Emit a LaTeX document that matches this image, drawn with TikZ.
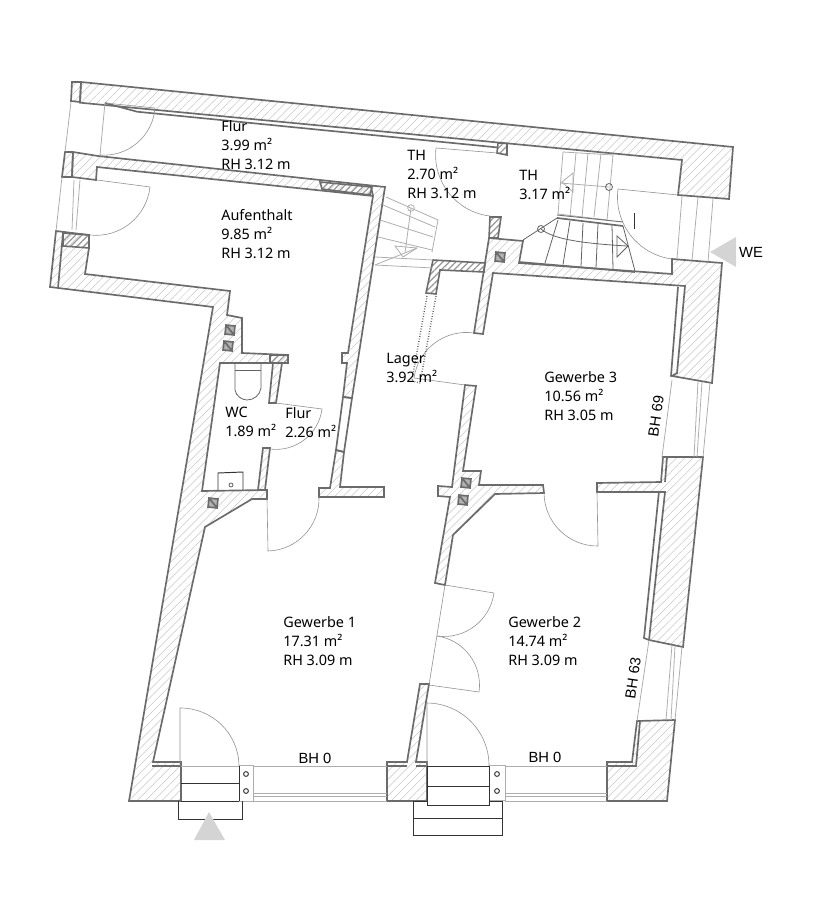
\documentclass[tikz,border=0pt]{standalone}
\usepackage{fontspec}
\setmainfont{Noto Sans}
\newfontfamily\sidefont{Liberation Sans}
\usetikzlibrary{patterns.meta}
\definecolor{wallgray}{gray}{.42}
\definecolor{hatchgray}{gray}{.78}
\definecolor{thingray}{gray}{.68}
\definecolor{stepgray}{gray}{.2}
\definecolor{markgray}{gray}{.83}
\tikzset{
  wall/.style = {
    draw = wallgray,
    line width = .95pt,
    pattern = {Lines[angle=45,distance=3.3pt,line width=.3pt]},
    pattern color = hatchgray},
  darkwall/.style = {
    draw = wallgray,
    line width = .9pt,
    pattern = {Lines[angle=45,distance=2.6pt,line width=.7pt]},
    pattern color = wallgray!70},
  wallline/.style = {draw = wallgray, line width = .95pt},
  thinline/.style = {draw = thingray, line width = .45pt},
  doorline/.style = {draw = black!42, line width = .35pt},
  stepline/.style = {draw = stepgray, line width = .55pt},
  stair/.style = {draw = black!62, line width = .45pt},
  roomlabel/.style = {
    anchor = north west,
    inner sep = 0pt,
    align = left,
    font = \fontsize{8.2}{10.75}\selectfont},
  sidelabel/.style = {inner sep = 0pt, font = \sidefont\fontsize{8.4}{9}\selectfont}
}
\begin{document}
\begin{tikzpicture}[x=.02cm,y=-.02cm]
  \useasboundingbox (0,0) rectangle (828,905);
  %% walls
  \draw[wall] (72,82) -- (81,82) -- (80,102) -- (71,101) -- cycle;
  \draw[wall] (81,82) -- (733,147) -- (729,199) -- (678,195) -- (682,160) -- (80,102.7) -- cycle;
  \draw[wall] (65,152) -- (73,152) -- (72,177) -- (62,177) -- cycle;
  \draw[wall] (73,152) -- (98,156) -- (385,187) -- (352,398) -- (343,397) -- (347,363) -- (342,363)
    -- (342,353) -- (348,353) -- (373,196) -- (97,167) -- (96,180) -- (72,177) -- cycle;
  \draw[wall] (344,452) -- (336,450) -- (330,488) -- (319,488) -- (319,497) -- (384,497) -- (384,487)
    -- (340,487) -- cycle;
  \draw[wall] (56,231) -- (89,235) -- (89,248) -- (85,274) -- (230,291) -- (227,315) -- (242,318)
    -- (242,353) -- (288,355) -- (288,363) -- (220,363) -- (202,491) -- (267,490) -- (267,499)
    -- (252,499) -- (205,527) -- (153,762) -- (181,762) -- (181,801) -- (129,801) -- (213,307)
    -- (50,287) -- cycle;
  \draw[wall] (489,238) -- (523,241) -- (519,263) -- (672,274) -- (672,259) -- (722,263) -- (712,383)
    -- (672,376) -- (677,373) -- (685,286) -- (493,273) -- (483,334) -- (474,333) -- (485,263) -- cycle;
  \draw[wall] (465,385) -- (476,386) -- (463,471) -- (481,471) -- (479,485) -- (543,485) -- (544,493)
    -- (495,494) -- (453,535) -- (445,585) -- (435,583) -- (450,497) -- (438,496) -- (438,486)
    -- (452,487) -- cycle;
  \draw[wall] (597,483) -- (661,482) -- (663,457) -- (703,457) -- (683,647) -- (649,640) -- (665,492)
    -- (597,492) -- cycle;
  \draw[wall] (387,762) -- (407,762) -- (420,684) -- (429,684) -- (416,762) -- (427,762) -- (427,801)
    -- (387,801) -- cycle;
  \draw[wall] (607,762) -- (632,762) -- (637,721) -- (675,720) -- (667,801) -- (607,801) -- cycle;
  \draw[wall] (273,363) -- (282,363) -- (276,403) -- (269,403) -- cycle;
  \draw[wall] (263,448) -- (270,448) -- (265,490) -- (258,490) -- cycle;
  %% darker pieces
  \draw[darkwall] (498,143) -- (507,143.5) -- (507,155) -- (497,153) -- cycle;
  \draw[darkwall] (490,217) -- (501,217) -- (498,238) -- (489,238) -- cycle;
  \draw[darkwall] (433,260) -- (485,263) -- (484,272) -- (440,270) -- (436,294) -- (426,293) -- cycle;
  \draw[darkwall] (63,233) -- (89,235) -- (89,248) -- (63,246) -- cycle;
  \draw[darkwall] (320,182) -- (372,187) -- (370,195) -- (322,189) -- cycle;
  \draw[darkwall] (270,355) -- (288,355) -- (288,363) -- (270,363) -- cycle;
  %% inner wall lines
  \draw[wallline] (105,103) -- (137,111.7) -- (498,147.5);
  \draw[wallline] (63,233) -- (58,288);
  \draw[wallline] (352,398) -- (344,452);
  \draw[wallline] (343,397) -- (336,450);
  \draw[wallline] (352,398) -- (343,397);
  \draw[wallline] (344,452) -- (336,450);
  \draw[wallline] (678,287) -- (671,376);
  \draw[wallline] (667,457) -- (665,482);
  \draw[wallline] (659,491) -- (644,638) -- (649,640);
  \draw[wallline] (640,721) -- (636,766) -- (607,766);
  \draw[wallline] (152,766) -- (181,766);
  \draw[wallline] (387,766) -- (407,766);
  \draw[wallline] (416,766) -- (427,766);
  \draw[wallline] (373,196) -- (371,187);
  %% flues
  \foreach \fx/\fy in {230/330,228/346,213/503,500/257,466/483,463/500}{
    \begin{scope}[shift={(\fx,\fy)},rotate=-6]
      \fill[black!30] (-4.5,-4.5) rectangle (4.5,4.5);
      \draw[wallline] (-4.5,-4.5) rectangle (4.5,4.5) (-4.5,-4.5) -- (4.5,4.5);
    \end{scope}}
  %% doors
  \draw[doorline] (105,103) -- (155,108) to[bend left=45] (100,155);
  \draw[doorline] (97,180) -- (150,187) to[bend left=45] (90,235);
  \draw[doorline] (497,153) -- (436,148) to[bend right=45] (490,216);
  \draw[doorline] (678,195) -- (618,189) to[bend right=45] (672,259);
  \draw[doorline] (276,403) -- (322,409) to[bend left=45] (270,449);
  \draw[doorline] (267,499) -- (268,551) to[bend right=45] (319,497);
  \draw[doorline] (465,385) -- (414,378) to[bend left=45] (474,333);
  \draw[doorline] (544,493) to[bend right=45] (598,546) -- (597,492);
  \draw[doorline] (445,585) -- (494,593) to[bend left=45] (437,636);
  \draw[doorline] (429,685) -- (479,692) to[bend right=45] (437,636);
  \draw[doorline] (445,585) -- (429,685);
  \draw[doorline] (180,766) -- (180,708) to[bend left=45] (239,766);
  \draw[doorline] (427,766) -- (427,703) to[bend left=45] (489,766);
  %% outer openings
  \draw[thinline] (71,102) -- (65,152);
  \draw[thinline] (105,103) -- (100,155);
  \draw[thinline] (62,177) -- (56,231);
  \draw[thinline] (74,180) -- (72,230);
  \draw[thinline] (80,180) -- (76,230);
  \draw[thinline] (682,196) -- (677,259);
  \draw[thinline] (698,197) -- (692,260);
  \draw[thinline] (713,199) -- (708,262);
  \draw[thinline] (672,380) -- (662,457);
  \draw[thinline] (698,381) -- (694,457);
  \draw[thinline] (702,382) -- (697,457);
  \draw[thinline] (710,383) -- (703,457);
  \draw[thinline] (649,640) -- (637,721);
  \draw[thinline] (672,645) -- (666,720);
  \draw[thinline] (675,646) -- (671,720);
  \draw[thinline] (682,647) -- (675,720);
  \foreach \wy in {766,793,796,801}{
    \draw[thinline] (253,\wy) -- (387,\wy);
    \draw[thinline] (505,\wy) -- (607,\wy);}
  \draw[thinline] (181,766) -- (239,766);
  %% entrance left
  \draw[thinline] (239,765) rectangle (253,801);
  \draw[stepline] (181,783) -- (239,783);
  \draw[stepline] (181,801) -- (239,801);
  \draw[stepline] (239,766) -- (239,801);
  \draw[stepline] (178,801) -- (178,819) -- (242,819) -- (242,801);
  \draw[stepline] (246,774) circle (2.4);
  \draw[stepline] (246,791) circle (2.4);
  \fill[markgray] (209,812) -- (225,840) -- (194,840) -- cycle;
  %% entrance right
  \draw[thinline] (489,765) rectangle (505,800);
  \draw[stepline] (427,766) -- (489,766) -- (489,805) -- (427,805) -- cycle;
  \draw[stepline] (427,786) -- (489,786);
  \draw[stepline] (413,801) -- (413,835) -- (502,835) -- (502,801);
  \draw[stepline] (413,801) -- (427,801);
  \draw[stepline] (489,801) -- (502,801);
  \draw[stepline] (413,818) -- (502,818);
  \draw[stepline] (497,774) circle (2.4);
  \draw[stepline] (497,791) circle (2.4);
  \fill[markgray] (710,252) -- (736,237) -- (736,267) -- cycle;
  %% stairs
  \draw[thinline] (563,152) -- (558,214) -- (607,220) -- (613,155) -- cycle;
  \foreach \ua/\ub in {576/570,588/582,601/594}{
    \draw[thinline] (\ua,153) -- (\ub,217);}
  \draw[thinline] (560,183) -- (609,187);
  \draw[stair] (609,187) circle (3.5);
  \draw[thinline] (573,173) -- (562,182) -- (573,192) -- cycle;
  \draw[stepline,draw=black!55] (557,215) -- (623,222);
  \draw[wallline] (557,218) -- (623,226);
  \draw[wallline] (519,262) -- (635,272);
  \draw[stair] (523,240) -- (557,218);
  \draw[stair] (541,229) circle (3.5);
  \draw[stair] (541,229) .. controls (552,238) and (575,243) .. (627,246);
  \draw[stair] (617,236) -- (628,246) -- (617,257) -- cycle;
  \foreach \la/\lb/\lc in {558/220/545,570/221/563,583/223/581,598/224/596,612/225/613,623/226/635}{
    \draw[stair] (\la,\lb) -- (\lc,{263+(\lc-545)*.09});}
  \draw[thinline] (386,197) -- (438,220) -- (432,252);
  \draw[thinline] (383,205) -- (435,227);
  \draw[thinline] (380,220) -- (433,237);
  \draw[thinline] (378,237) -- (432,250);
  \draw[thinline] (411,208) -- (405,253);
  \draw[thinline] (411,208) circle (3.3);
  \draw[thinline] (395,246) -- (417,248) -- (403,257) -- cycle;
  \draw[thinline] (375,265) -- (417,248);
  \draw[thinline] (375,257) -- (433,260);
  \draw[thinline] (375,265) -- (433,268);
  \draw[stepline] (634,213) -- (634,229);
  %% lager
  \draw[stair,densely dotted,line width=.85pt] (427,296) -- (412,380);
  \draw[stair,densely dotted,line width=.85pt] (436,296) -- (420,383);
  \draw[stair,densely dotted,line width=.85pt] (412,381) -- (420,383);
  %% wc
  \draw[stair] (235,363) -- (235,390) .. controls (236,396) and (242,400) .. (247,400)
    .. controls (254,400) and (260,395) .. (261,388) -- (261,363);
  \draw[stair] (235,370) -- (261,370);
  \draw[stepline] (218,490) -- (218,473) -- (243,472) -- (243,490);
  \draw[stair] (231,485) circle (2);
  %% labels
  \node[roomlabel] (flurtop) at (221,120) {Flur\\3.99 m²\\RH 3.12 m};
  \node[roomlabel] (aufenthalt) at (221,209) {Aufenthalt\\9.85 m²\\RH 3.12 m};
  \node[roomlabel] (thleft) at (407,150) {TH\\2.70 m²\\RH 3.12 m};
  \node[roomlabel] (thright) at (519,170) {TH\\3.17 m²};
  \node[roomlabel] (lager) at (386,353) {Lager\\3.92 m²};
  \node[roomlabel] (gewerbethree) at (544,371) {Gewerbe 3\\10.56 m²\\RH 3.05 m};
  \node[roomlabel] (wc) at (225,407) {WC\\1.89 m²};
  \node[roomlabel] (flurwc) at (285,407) {Flur\\2.26 m²};
  \node[roomlabel] (gewerbeone) at (283,616) {Gewerbe 1\\17.31 m²\\RH 3.09 m};
  \node[roomlabel] (gewerbetwo) at (508,616) {Gewerbe 2\\14.74 m²\\RH 3.09 m};
  \node[sidelabel] (bhleft) at (315,758) {BH 0};
  \node[sidelabel] (bhright) at (545,757) {BH 0};
  \node[sidelabel,rotate=82] (bhsixnine) at (656,416) {BH 69};
  \node[sidelabel,rotate=82] (bhsixthree) at (633,678) {BH 63};
  \node[sidelabel] (we) at (751,252) {WE};
\end{tikzpicture}
\end{document}
